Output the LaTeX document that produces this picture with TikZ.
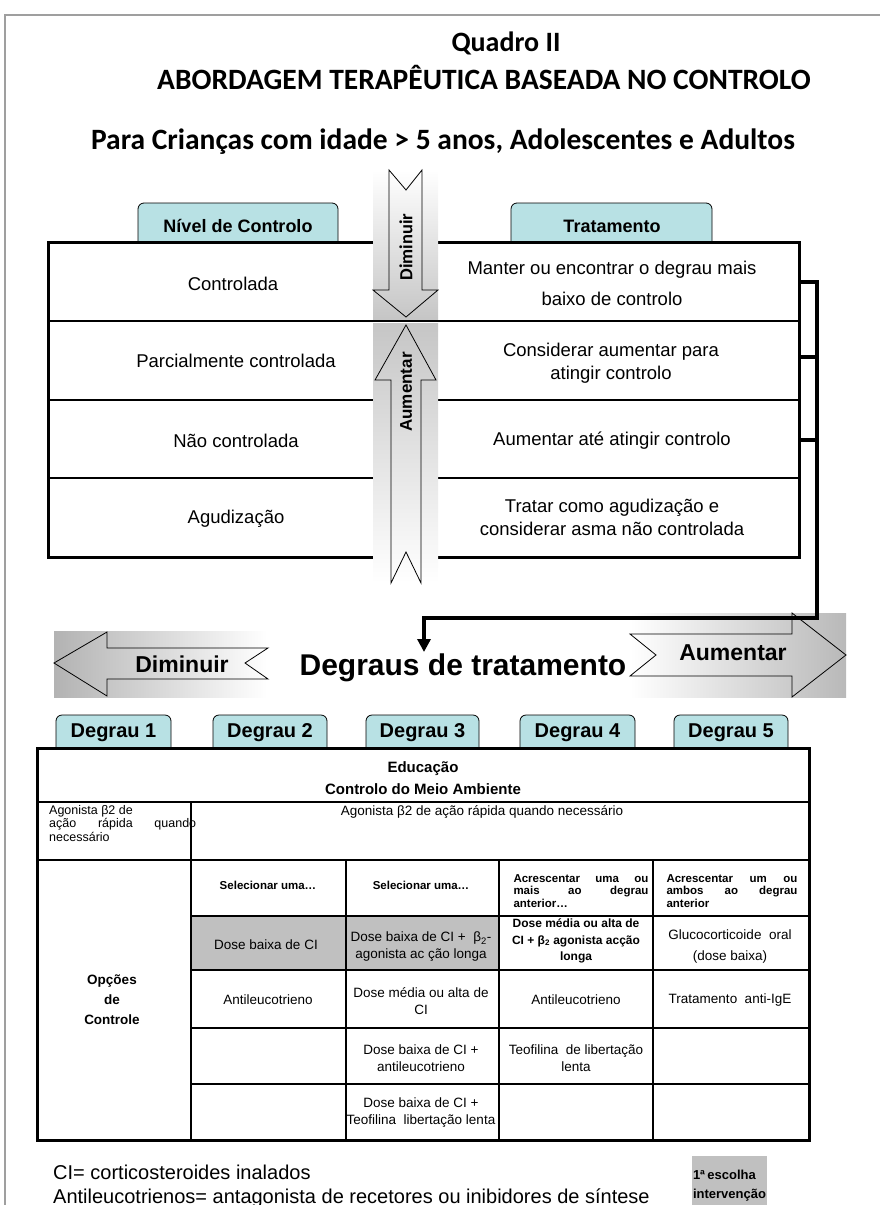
\documentclass[tikz,border=0pt]{standalone}
\usepackage{fontspec}
\setmainfont{Liberation Sans}
\newfontfamily\calibri{Carlito}
\usetikzlibrary{arrows.meta}
\definecolor{tabcyan}{RGB}{184,225,228}
\definecolor{cellgray}{RGB}{192,192,192}
\newcommand{\fsz}[2]{\fontsize{#1}{#2}\selectfont}
\begin{document}
\begin{tikzpicture}[x=1pt,y=-1pt,
  tab/.style={draw, line width=0.8pt, fill=tabcyan, rounded corners=6pt},
  tabtxt/.style={font=\bfseries\fsz{18}{20}, inner sep=0pt},
  degtxt/.style={font=\bfseries\fsz{20}{22}, inner sep=0pt},
  boxline/.style={line width=3pt},
  rowline/.style={line width=1.2pt},
  conn/.style={line width=3.5pt},
  big/.style={font=\fsz{18.5}{23}, align=center, inner sep=0pt},
  cell/.style={font=\fsz{13.5}{17}, align=center, inner sep=0pt},
  head/.style={font=\bfseries\fsz{11.5}{12.5}, align=left, inner sep=0pt},
  blockarrow/.style={draw, line width=0.8pt, line join=miter}]
\useasboundingbox (0,0) rectangle (880,1205);
\clip (0,0) rectangle (880,1205);

% Frame
\draw[gray!75, line width=1.2pt] (5,1205) -- (5,15) -- (880,15);

% Titles
\node[font=\calibri\bfseries\fsz{28}{30}] (quadro) at (506,43) {Quadro II};
\node[font=\calibri\bfseries\fsz{29.5}{31}] (titulo) at (484,77) {ABORDAGEM TERAPÊUTICA BASEADA NO CONTROLO};
\node[font=\calibri\bfseries\fsz{29.5}{31}] (publico) at (443,142) {Para Crianças com idade > 5 anos, Adolescentes e Adultos};

% Control table tabs
\draw[tab] (138,250) -- (138,203) -- (338,203) -- (338,250);
\node[tabtxt] (nivel) at (238,226) {Nível de Controlo};
\draw[tab] (511,250) -- (511,203) -- (712,203) -- (712,250);
\node[tabtxt] (trat) at (612,226) {Tratamento};

% Control table
\draw[boxline, fill=white] (48,242) rectangle (799,557);
\foreach \y in {321,400,478}
  \draw[rowline] (48,\y) -- (799,\y);

% Vertical arrows
\shade[top color=white, bottom color=gray!45] (373,170) rectangle (438,319);
\shade[top color=gray!45, bottom color=white] (373,323) rectangle (438,583);
\draw[blockarrow] (389,170) -- (406,190) -- (422,170) -- (422,290) -- (438,290)
  -- (406,317) -- (373,290) -- (389,290) -- cycle;
\draw[blockarrow] (406,325) -- (436,380) -- (421,380) -- (421,583) -- (406,552)
  -- (391,583) -- (391,380) -- (375,380) -- cycle;
\node[rotate=90, font=\calibri\bfseries\fsz{18.5}{19}] (dimv) at (406,247) {Diminuir};
\node[rotate=90, font=\bfseries\fsz{17}{18}] (aumv) at (406,392) {Aumentar};

% Row texts
\node[big] (ctrl) at (233,284) {Controlada};
\node[big] (parc) at (236,361) {Parcialmente controlada};
\node[big] (naoc) at (236,441) {Não controlada};
\node[big] (agud) at (236,519) {Agudização};
\node[big] (t1) at (612,283) {Manter ou encontrar o degrau mais\\[8pt]baixo de controlo};
\node[big] (t2) at (611,363) {Considerar aumentar para\\atingir controlo};
\node[big] (t3) at (612,441) {Aumentar até atingir controlo};
\node[big] (t4) at (612,517) {Tratar como agudização e\\considerar asma não controlada};

% Horizontal arrows
\shade[left color=gray!60, right color=white] (54,631) rectangle (267,697);
\shade[left color=white, right color=gray!55] (630,613) rectangle (846,697);
\draw[blockarrow] (54,663) -- (107,632) -- (107,648) -- (268,648) -- (245,663)
  -- (268,679) -- (107,679) -- (107,696) -- cycle;
\draw[blockarrow] (630,634) -- (792,634) -- (792,613) -- (846,655) -- (792,697)
  -- (792,676) -- (630,676) -- (656,655) -- cycle;
\node[font=\bfseries\fsz{23}{24}] (dimh) at (182,664) {Diminuir};
\node[font=\bfseries\fsz{23}{24}] (aumh) at (733,653) {Aumentar};
\node[font=\bfseries\fsz{30}{32}] (degraus) at (463,668) {Degraus de tratamento};

% Connector to treatment steps
\coordinate (r1) at (799,282);
\coordinate (r2) at (799,357);
\coordinate (r3) at (799,440);
\coordinate (bend) at (817,618);
\coordinate (drop) at (424,618);
\coordinate (tip) at (424,652);
\draw[conn, -{Triangle[length=13pt,width=13pt]}] (r1) -| (bend) -- (drop) -- (tip);
\draw[conn] (r2) -- (r2 -| bend);
\draw[conn] (r3) -- (r3 -| bend);

% Step tabs
\foreach \a/\b [count=\i] in {56/171,213/327,366/479,520/635,674/788}{
  \draw[tab] (\a,755) -- (\a,715) -- (\b,715) -- (\b,755);
  \node[degtxt] (deg\i) at ({(\a+\b)/2},733) {Degrau \i};
}

% Steps table
\draw[boxline, fill=white] (37,748) rectangle (809,1140);
\fill[cellgray] (191,916) rectangle (499,970);
\draw[line width=2pt] (37,802) -- (809,802);
\draw[line width=2.5pt] (37,860) -- (809,860);
\draw[rowline] (191,802) -- (191,1140);
\foreach \x in {346,499,653}
  \draw[rowline] (\x,860) -- (\x,1140);
\foreach \y in {916,970,1028,1084}
  \draw[rowline] (191,\y) -- (809,\y);

% Steps table texts
\node[font=\bfseries\fsz{15}{22}, align=center, inner sep=0pt] (educ) at (423,778) {Educação\\Controlo do Meio Ambiente};
\node[anchor=north west, font=\fsz{12.5}{13.5}, align=left, inner sep=0pt] (agon1) at (49,805)
  {Agonista β2 de\\\makebox[147pt][s]{ação rápida quando}\\necessário};
\node[cell] (agon) at (482,812) {Agonista β2 de ação rápida quando necessário};
\node[head] (sel1) at (268,885) {Selecionar uma…};
\node[head] (sel2) at (421,885) {Selecionar uma…};
\node[head] (acr4) at (581,891) {\makebox[135pt][s]{Acrescentar uma ou}\\\makebox[135pt][s]{mais ao degrau}\\anterior…};
\node[head] (acr5) at (732,891) {\makebox[131pt][s]{Acrescentar um ou}\\\makebox[131pt][s]{ambos ao degrau}\\anterior};
\node[font=\bfseries\fsz{13.5}{20}, align=center, inner sep=0pt] (opcoes) at (112,1000) {Opções\\de\\Controle};
\node[cell] (c21) at (266,945) {Dose baixa de CI};
\node[cell] (c22) at (421,947) {Dose baixa de CI +\ \ β\textsubscript{2}-\\agonista ac ção longa};
\node[font=\bfseries\fsz{12}{16.5}, align=center, inner sep=0pt] (c23) at (576,941) {Dose média ou alta de\\CI + β\textsubscript{2} agonista acção\\longa};
\node[cell] (c24) at (730,946) {Glucocorticoide\ \ oral\\[4pt](dose baixa)};
\node[cell] (c31) at (268,1000) {Antileucotrieno};
\node[cell] (c32) at (421,1001) {Dose média ou alta de\\CI};
\node[cell] (c33) at (576,1000) {Antileucotrieno};
\node[cell] (c34) at (730,1000) {Tratamento\ \ anti-IgE};
\node[cell] (c42) at (421,1058) {Dose baixa de CI +\\antileucotrieno};
\node[cell] (c43) at (576,1058) {Teofilina\ \ de libertação\\lenta};
\node[cell] (c52) at (421,1113) {Dose baixa de CI +\\Teofilina\ \ libertação lenta};

% Notes
\node[anchor=west, font=\fsz{20}{22}, inner sep=0pt] (notaci) at (53,1172) {CI= corticosteroides inalados};
\node[anchor=west, font=\fsz{20}{22}, inner sep=0pt] (notaant) at (53,1198) {Antileucotrienos= antagonista de recetores ou inibidores de síntese};
\fill[cellgray] (692,1156) rectangle (767,1210);
\node[font=\bfseries\fsz{13}{19}, align=left, inner sep=0pt] (escolha) at (729.5,1186) {\makebox[62pt][s]{1ª escolha}\\intervenção};
\end{tikzpicture}
\end{document}
